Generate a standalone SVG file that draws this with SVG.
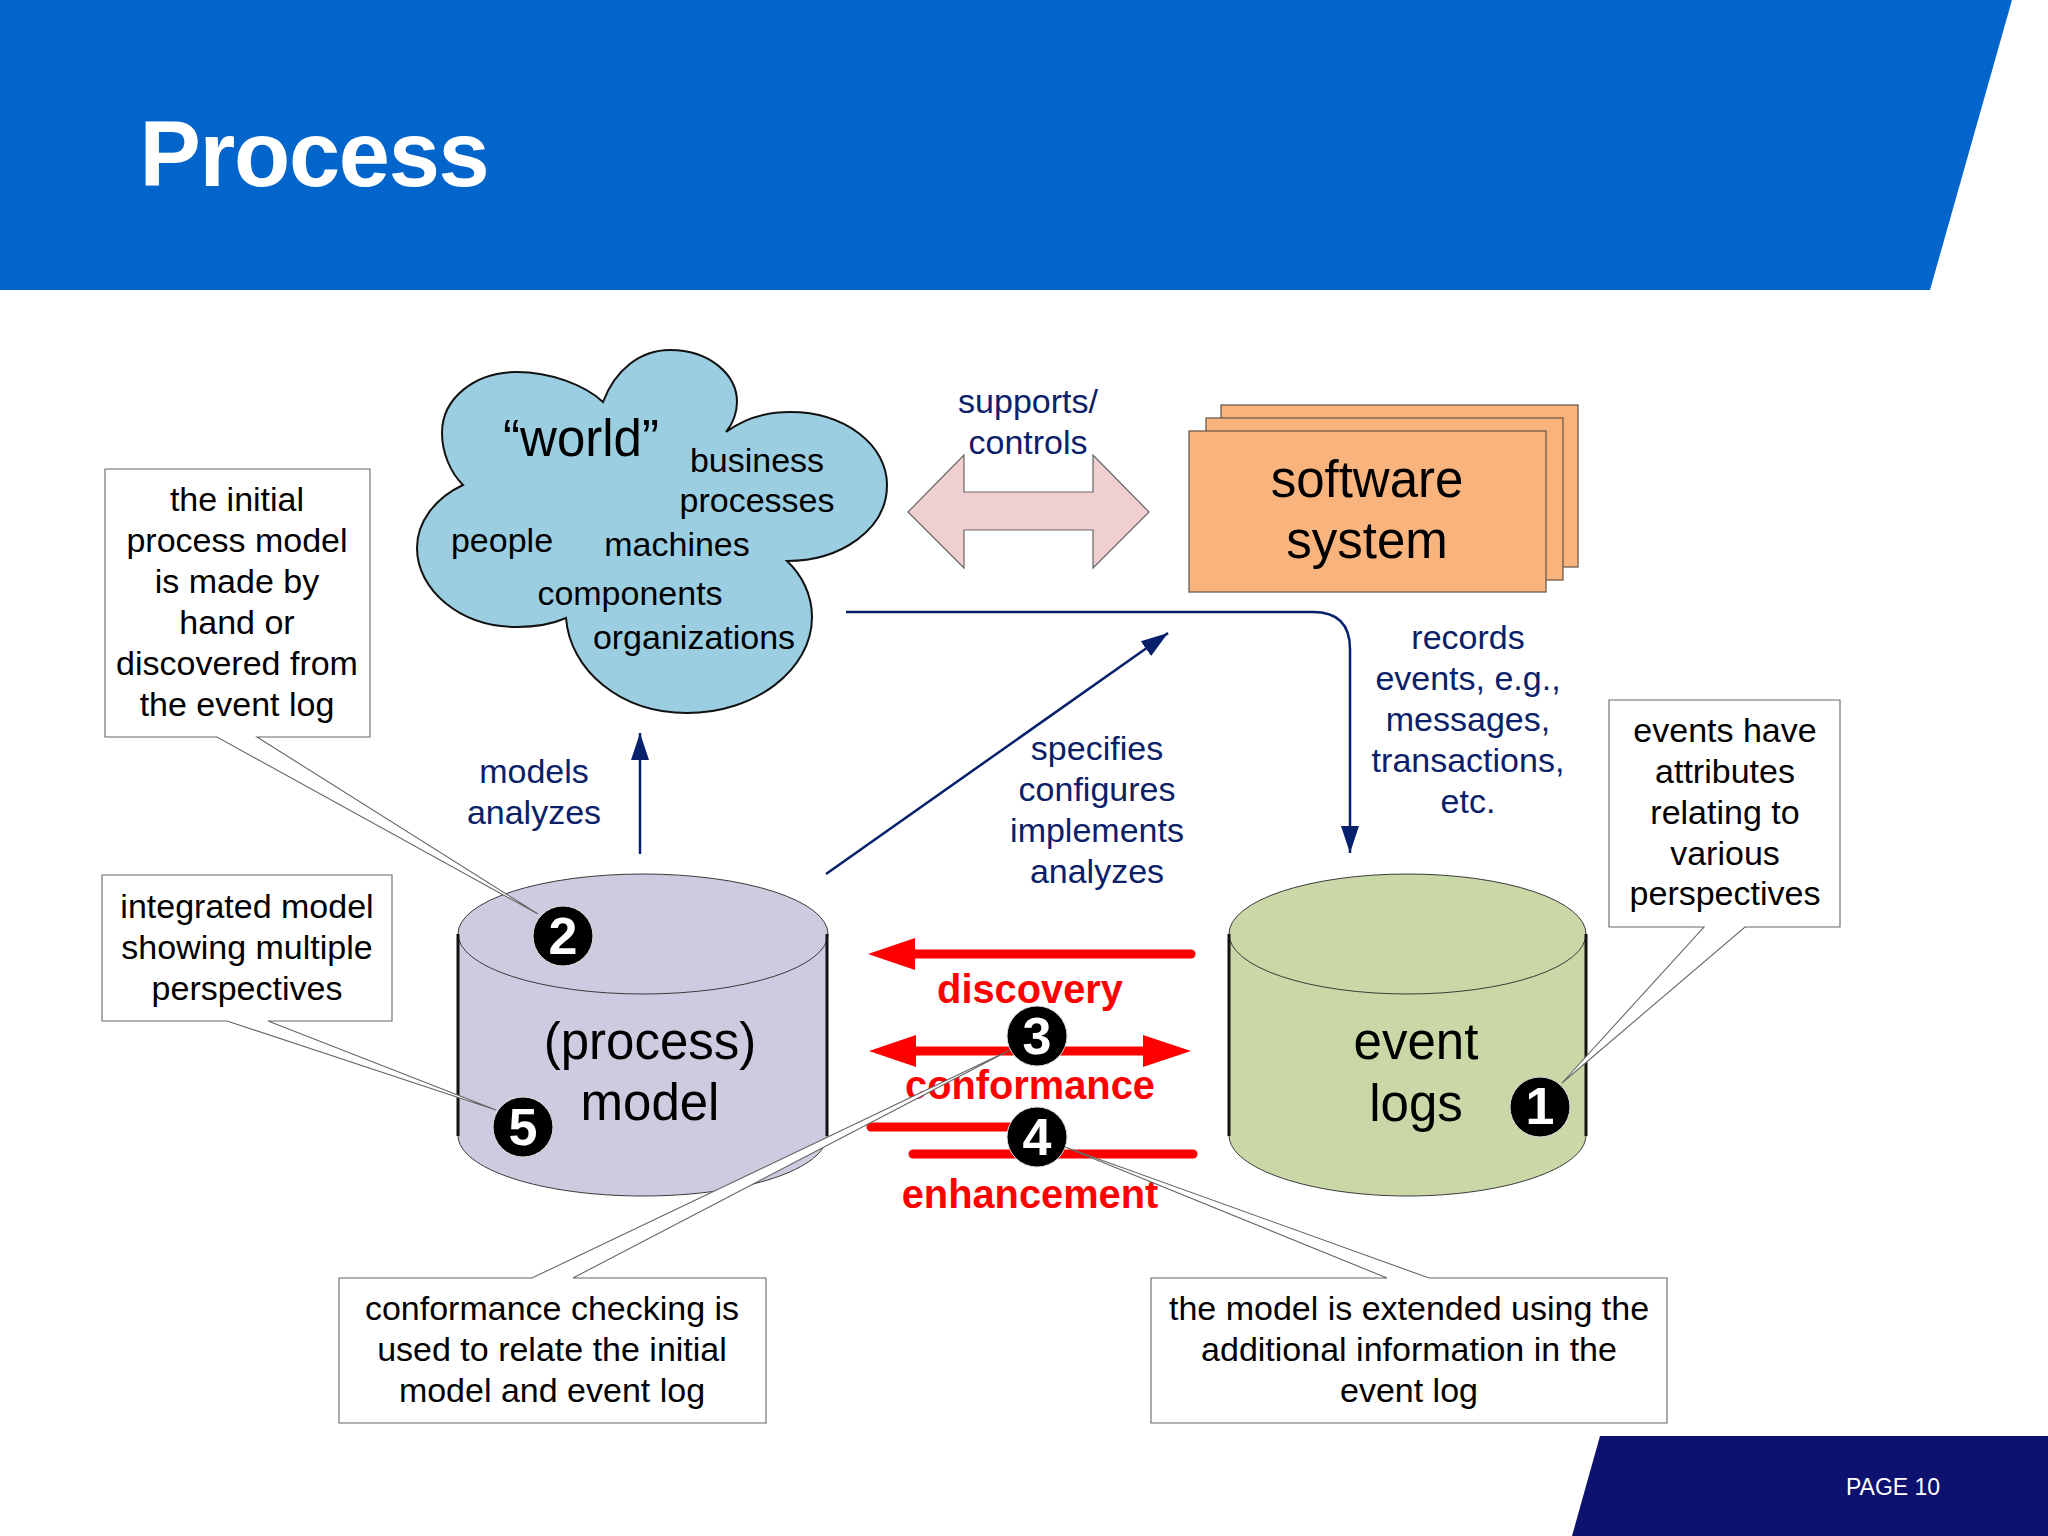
<svg xmlns="http://www.w3.org/2000/svg" width="2048" height="1536" viewBox="0 0 2048 1536">
<defs>
<style>
text{font-family:"Liberation Sans",Arial,sans-serif;text-anchor:middle}
.b{font-size:34px;fill:#000}
.n{font-size:34px;fill:#0a2068}
.big{font-size:51px;fill:#000}
.r{font-size:39.8px;font-weight:bold;fill:#f00}
.d{font-size:52px;font-weight:bold;fill:#fff}
.box{fill:#fff;stroke:#666;stroke-width:1.1}
.cyl{stroke:#3a3a3a;stroke-width:1}
.side{stroke:#111;stroke-width:3;fill:none}
.nav{stroke:#06206c;stroke-width:2.5;fill:none}
.red{stroke:#f00;stroke-width:9;stroke-linecap:round;fill:none}
.dot{fill:#000;stroke:#ddd;stroke-width:1}
.soft{fill:#f8b47c;stroke:#6e5a4a;stroke-width:1.3}
</style>
<marker id="ah" markerUnits="userSpaceOnUse" markerWidth="30" markerHeight="30" refX="27" refY="10" orient="auto"><path d="M0 1L27 10L0 19Z" fill="#06206c"/></marker>
</defs>
<rect width="2048" height="1536" fill="#fff"/>
<g id="header"><polygon points="0,0 2012,0 1930,290 0,290" fill="#0265cb"/><text x="314" y="186" style="font-size:92px;font-weight:bold;fill:#fff;letter-spacing:-1.3px">Process</text></g>
<g id="footer"><polygon points="1600,1436 2048,1436 2048,1536 1572,1536" fill="#0d1270"/><text x="1893" y="1495" style="font-size:23px;fill:#fff">PAGE 10</text></g>
<g id="world">
<path d="M603 402C615 370 640 350 670 350C710 350 737 375 737 402C737 412 733 424 726 432C745 418 765 412 790 412C845 412 887 445 887 485C887 530 840 561 787 561C802 575 812 595 812 617C812 670 755 713 687 713C620 713 570 670 566 618C550 625 535 627 517 627C460 627 417 590 417 548C417 522 435 498 463 485C450 472 442 452 442 433C442 398 475 372 517 372C550 372 585 385 603 402Z" fill="#9bcee0" stroke="#111" stroke-width="2"/>
<text x="581" y="456" style="font-size:51px">“world”</text>
<text class="b" x="757" y="472">business</text><text class="b" x="757" y="512">processes</text>
<text class="b" x="502" y="552">people</text><text class="b" x="677" y="556">machines</text>
<text class="b" x="630" y="605">components</text><text class="b" x="694" y="649">organizations</text>
</g>
<g id="software">
<rect class="soft" x="1221" y="405" width="357" height="162"/>
<rect class="soft" x="1206" y="418" width="357" height="162"/>
<rect class="soft" x="1189" y="431" width="357" height="161"/>
<text class="big" x="1367" y="497">software</text><text class="big" x="1367" y="558">system</text>
</g>
<g id="support-arrow">
<polygon points="908,512 964,455 964,492 1093,492 1093,455 1149,512 1093,568 1093,530 964,530 964,568" fill="#efcfcf" stroke="#666" stroke-width="1.2"/>
<text class="n" x="1028" y="413">supports/</text><text class="n" x="1028" y="454">controls</text>
</g>
<g id="process-model">
<path class="cyl" d="M458 934V1135C458 1169 541 1196 643 1196C745 1196 827 1169 827 1135V934Z" fill="#cdcbe0"/>
<ellipse class="cyl" cx="643" cy="934" rx="185" ry="60" fill="#cdcbe0"/>
<path class="side" d="M458 934V1136M827 934V1136"/>
<text class="big" x="650" y="1059">(process)</text><text class="big" x="650" y="1120">model</text>
</g>
<g id="event-logs">
<path class="cyl" d="M1229 934V1135C1229 1169 1312 1196 1407.500 1196C1503 1196 1586 1169 1586 1135V934Z" fill="#c9d8a6"/>
<ellipse class="cyl" cx="1407.500" cy="934" rx="178.500" ry="60" fill="#c9d8a6"/>
<path class="side" d="M1229 934V1136M1586 934V1136"/>
<text class="big" x="1416" y="1059">event</text><text class="big" x="1416" y="1121">logs</text>
</g>
<g id="connectors">
<path class="nav" d="M846 612H1313Q1350 612 1350 649V853" marker-end="url(#ah)"/>
<path class="nav" d="M640 854V733" marker-end="url(#ah)"/>
<path class="nav" d="M826 874L1168 633" marker-end="url(#ah)"/>
<path class="red" d="M1191 954H900"/><polygon points="868,954 915,938 915,970" fill="#f00"/>
<path class="red" d="M900 1051H1160"/><polygon points="869,1051 916,1035 916,1067" fill="#f00"/><polygon points="1191,1051 1143,1035 1143,1067" fill="#f00"/>
<path class="red" d="M871 1127H1037"/><path class="red" d="M913 1154H1193"/>
</g>
<g id="connector-labels">
<text class="n" x="534" y="783">models</text><text class="n" x="534" y="824">analyzes</text>
<text class="n" x="1097" y="760">specifies</text><text class="n" x="1097" y="801">configures</text><text class="n" x="1097" y="842">implements</text><text class="n" x="1097" y="883">analyzes</text>
<text class="n" x="1468" y="649">records</text><text class="n" x="1468" y="690">events, e.g.,</text><text class="n" x="1468" y="731">messages,</text><text class="n" x="1468" y="772">transactions,</text><text class="n" x="1468" y="813">etc.</text>
<text class="r" x="1030" y="1003">discovery</text><text class="r" x="1030" y="1099">conformance</text><text class="r" x="1030" y="1208">enhancement</text>
</g>
<g id="note-initial">
<path class="box" d="M105 469H370V737H257L538 914L217 737H105Z"/>
<text class="b" x="237" y="511">the initial</text><text class="b" x="237" y="552">process model</text><text class="b" x="237" y="593">is made by</text><text class="b" x="237" y="634">hand or</text><text class="b" x="237" y="675">discovered from</text><text class="b" x="237" y="716">the event log</text>
</g>
<g id="note-integrated">
<path class="box" d="M102 875H392V1021H268L496 1110L227 1021H102Z"/>
<text class="b" x="247" y="918">integrated model</text><text class="b" x="247" y="959">showing multiple</text><text class="b" x="247" y="1000">perspectives</text>
</g>
<g id="note-events">
<path class="box" d="M1609 700H1840V927H1745L1562 1083L1704 927H1609Z"/>
<text class="b" x="1725" y="742">events have</text><text class="b" x="1725" y="783">attributes</text><text class="b" x="1725" y="824">relating to</text><text class="b" x="1725" y="865">various</text><text class="b" x="1725" y="905">perspectives</text>
</g>
<g id="note-conformance">
<path class="box" d="M339 1278H532L1010 1050L573 1278H766V1423H339Z"/>
<text class="b" x="552" y="1320">conformance checking is</text><text class="b" x="552" y="1361">used to relate the initial</text><text class="b" x="552" y="1402">model and event log</text>
</g>
<g id="note-extended">
<path class="box" d="M1151 1278H1387L1065 1147L1429 1278H1667V1423H1151Z"/>
<text class="b" x="1409" y="1320">the model is extended using the</text><text class="b" x="1409" y="1361">additional information in the</text><text class="b" x="1409" y="1402">event log</text>
</g>
<g id="marker-1"><circle class="dot" cx="1540" cy="1107" r="30"/><text class="d" x="1540" y="1124">1</text></g>
<g id="marker-2"><circle class="dot" cx="563" cy="936" r="30"/><text class="d" x="563" y="954">2</text></g>
<g id="marker-3"><circle class="dot" cx="1037" cy="1036" r="30"/><text class="d" x="1037" y="1054">3</text></g>
<g id="marker-4"><circle class="dot" cx="1037" cy="1137" r="30"/><text class="d" x="1037" y="1155">4</text></g>
<g id="marker-5"><circle class="dot" cx="523" cy="1127" r="30"/><text class="d" x="523" y="1145">5</text></g>
</svg>
